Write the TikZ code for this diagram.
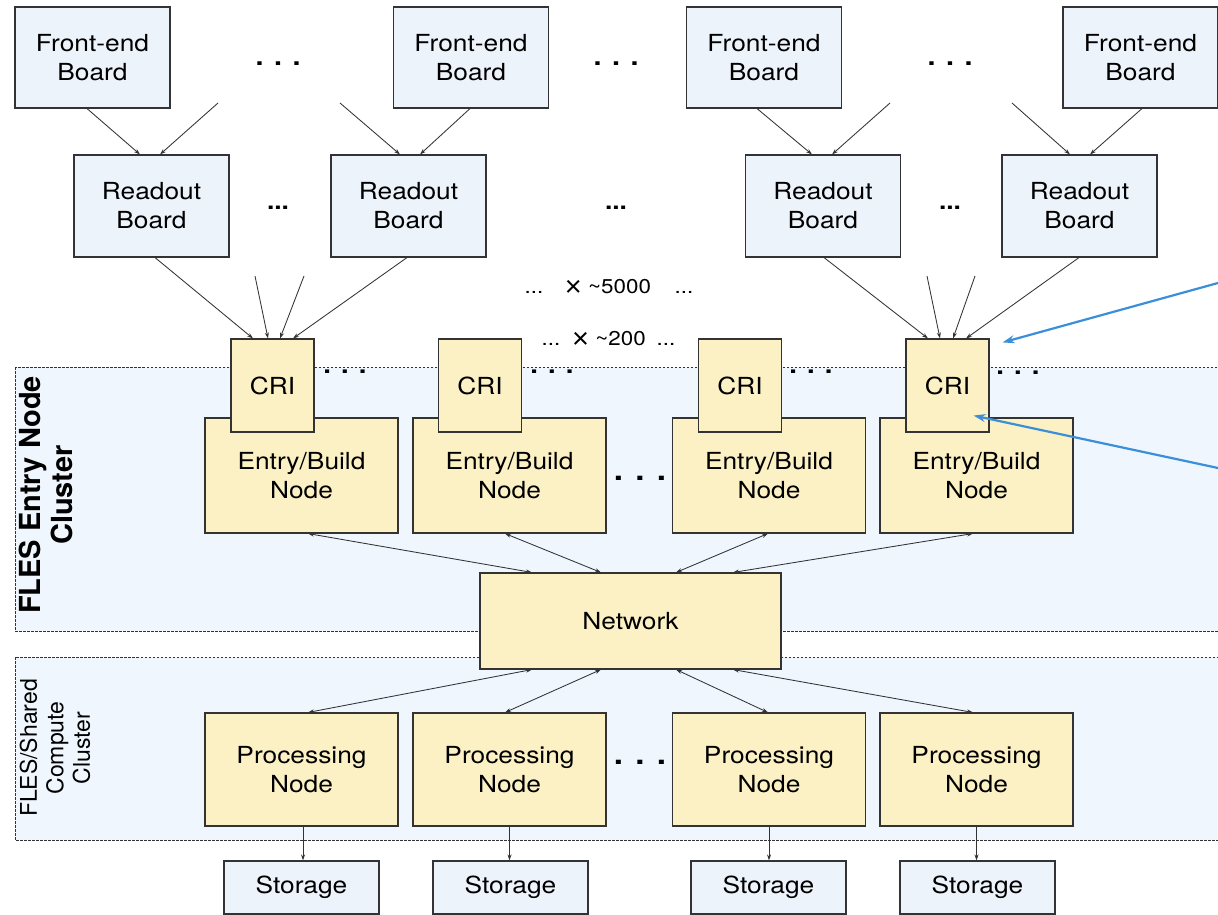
\documentclass[tikz,border=0pt]{standalone}
\usepackage{fontspec}
\setmainfont[FakeStretch=1.12]{TeX Gyre Heros}
\newfontfamily\sidefont{TeX Gyre Heros}
\newfontfamily\timesfont{Liberation Sans}
\usetikzlibrary{arrows.meta,calc}

\definecolor{boardfill}{HTML}{EDF3FB}
\definecolor{nodefill}{HTML}{FCF1C4}
\definecolor{clusterfill}{HTML}{EFF6FD}
\definecolor{edgegray}{HTML}{333333}
\definecolor{pointerblue}{HTML}{3B8FDA}

\newcommand{\timessign}{\raisebox{-2.5pt}{\timesfont\fontsize{29}{22}\selectfont ×}}

\tikzset{
  box/.style={draw=edgegray, line width=1.1pt, inner sep=0pt, align=center,
              font=\fontsize{23.5}{29}\selectfont},
  board/.style={box, fill=boardfill, minimum width=155pt, minimum height=101pt},
  rboard/.style={box, fill=boardfill, minimum width=155pt, minimum height=102pt},
  cribox/.style={box, fill=nodefill, minimum width=83pt, minimum height=93pt},
  entrybox/.style={box, fill=nodefill, minimum width=193pt, minimum height=115pt},
  procbox/.style={box, fill=nodefill, minimum width=193pt, minimum height=113pt},
  netbox/.style={box, fill=nodefill, minimum width=301pt, minimum height=96pt},
  storebox/.style={box, fill=boardfill, minimum width=155pt, minimum height=53pt},
  link/.style={draw=edgegray, line width=0.85pt, -{Stealth[length=6pt,width=4pt]}},
  dlink/.style={draw=edgegray, line width=0.85pt,
                {Stealth[length=6pt,width=4pt]}-{Stealth[length=6pt,width=4pt]}},
  pointer/.style={draw=pointerblue, line width=2.2pt, -{Stealth[length=12pt,width=8pt]}},
  cluster/.style={fill=clusterfill, draw=edgegray, line width=0.9pt,
                  dash pattern=on 2.5pt off 1.5pt},
  bigdots/.style={inner sep=0pt, font=\bfseries\fontsize{25.5}{26}\selectfont},
  cridots/.style={inner sep=0pt, font=\bfseries\fontsize{24.5}{25}\selectfont},
  rowdots/.style={inner sep=0pt, font=\bfseries\fontsize{23.5}{29}\selectfont},
  hugedots/.style={inner sep=0pt, font=\bfseries\fontsize{29.5}{30}\selectfont},
  count/.style={inner sep=0pt, font=\fontsize{20}{22}\selectfont},
}

\begin{document}
\begin{tikzpicture}[x=1pt, y=-1pt]
\useasboundingbox (0,0) rectangle (1218,915);
\clip (0,0) rectangle (1218,915);
\fill[white] (0,0) rectangle (1218,915);

% cluster backgrounds
\draw[cluster] (15,367) rectangle (1230,631);
\draw[cluster] (15,657) rectangle (1230,840);

\node[rotate=90, inner sep=0pt, align=center,
      font=\sidefont\bfseries\fontsize{29}{32}\selectfont] (entrylabel) at (45.5,495)
  {FLES Entry Node\\Cluster};
\node[rotate=90, inner sep=0pt, align=center,
      font=\sidefont\fontsize{23}{26.5}\selectfont] (computelabel) at (55,748)
  {FLES/Shared\\Compute\\Cluster};

% front-end boards
\node[board] (fe1) at (92.5,57.5) {Front-end\\Board};
\node[board] (fe2) at (471,57.5) {Front-end\\Board};
\node[board] (fe3) at (764,57.5) {Front-end\\Board};
\node[board] (fe4) at (1140.5,57.5) {Front-end\\Board};
\node[bigdots] (d1) at (278,64) {. . .};
\node[bigdots] (d2) at (616,64) {. . .};
\node[bigdots] (d3) at (950,64) {. . .};

% readout boards
\node[rboard] (rb1) at (151.5,206) {Readout\\Board};
\node[rboard] (rb2) at (408.5,206) {Readout\\Board};
\node[rboard] (rb3) at (823,206) {Readout\\Board};
\node[rboard] (rb4) at (1079.5,206) {Readout\\Board};
\node[rowdots] (d4) at (278,207.5) {...};
\node[rowdots] (d5) at (616,207.5) {...};
\node[rowdots] (d6) at (950,207.5) {...};

% multiplicities
\node[count] (c1) at (534,292) {...};
\node[count] (c2) at (608,288) {\timessign{} \textasciitilde5000};
\node[count] (c3) at (684,292) {...};
\node[count] (c4) at (551,344) {...};
\node[count] (c5) at (609,340) {\timessign{} \textasciitilde200};
\node[count] (c6) at (666,344) {...};

% entry/build nodes with their CRIs
\node[entrybox] (eb1) at (301.5,475.5) {Entry/Build\\Node};
\node[entrybox] (eb2) at (509.5,475.5) {Entry/Build\\Node};
\node[entrybox] (eb3) at (769,475.5) {Entry/Build\\Node};
\node[entrybox] (eb4) at (976.5,475.5) {Entry/Build\\Node};
\node[cribox] (cri1) at (272.5,385.5) {CRI};
\node[cribox] (cri2) at (480,385.5) {CRI};
\node[cribox] (cri3) at (740,385.5) {CRI};
\node[cribox] (cri4) at (947.5,385.5) {CRI};
\node[cridots] (d7) at (345,372) {. . .};
\node[cridots] (d8) at (552,372) {. . .};
\node[cridots] (d9) at (811,372) {. . .};
\node[cridots] (d10) at (1018,373) {. . .};
\node[hugedots] (d11) at (640,478) {. . .};

% network
\node[netbox] (net) at (630.5,621) {Network};

% processing nodes and storage
\node[procbox] (pn1) at (301.5,769.5) {Processing\\Node};
\node[procbox] (pn2) at (509.5,769.5) {Processing\\Node};
\node[procbox] (pn3) at (769,769.5) {Processing\\Node};
\node[procbox] (pn4) at (976.5,769.5) {Processing\\Node};
\node[hugedots] (d12) at (640,762) {. . .};
\node[storebox] (st1) at (301.5,887.5) {Storage};
\node[storebox] (st2) at (510.5,887.5) {Storage};
\node[storebox] (st3) at (768.5,887.5) {Storage};
\node[storebox] (st4) at (977.5,887.5) {Storage};

% loose ends of the elided links
\coordinate (f1) at (218,103);
\coordinate (f2) at (340,103);
\coordinate (f3) at (890,103);
\coordinate (f4) at (1012,103);
\coordinate (g1) at (255,276);
\coordinate (g2) at (304,276);
\coordinate (g3) at (927,276);
\coordinate (g4) at (975,276);
\coordinate (p1) at (1218,283);
\coordinate (p2) at (1218,468);

% front-end -> readout
\draw[link] ([xshift=-5.5pt]fe1.south) -- ([xshift=-11.5pt]rb1.north);
\draw[link] (f1) -- ([xshift=8.5pt]rb1.north);
\draw[link] (f2) -- ([xshift=-8.5pt]rb2.north);
\draw[link] ([xshift=-1pt]fe2.south) -- ([xshift=11.5pt]rb2.north);
\draw[link] ([xshift=-7pt]fe3.south) -- ([xshift=-11pt]rb3.north);
\draw[link] (f3) -- ([xshift=9pt]rb3.north);
\draw[link] (f4) -- ([xshift=-9.5pt]rb4.north);
\draw[link] ([xshift=1.5pt]fe4.south) -- ([xshift=10.5pt]rb4.north);

% readout -> CRI
\draw[link] ([xshift=3.5pt]rb1.south) -- ([xshift=-19.5pt]cri1.north);
\draw[link] (g1) -- ([xshift=-4.5pt]cri1.north);
\draw[link] (g2) -- ([xshift=7.5pt]cri1.north);
\draw[link] ([xshift=-1.5pt]rb2.south) -- ([xshift=20.5pt]cri1.north);
\draw[link] ([xshift=1pt]rb3.south) -- ([xshift=-19.5pt]cri4.north);
\draw[link] (g3) -- ([xshift=-7.5pt]cri4.north);
\draw[link] (g4) -- ([xshift=5.5pt]cri4.north);
\draw[link] ([xshift=-0.5pt]rb4.south) -- ([xshift=18.5pt]cri4.north);

% entry nodes <-> network <-> processing nodes
\draw[dlink] ([xshift=6.5pt]eb1.south) -- ([xshift=-98.5pt]net.north);
\draw[dlink] ([xshift=-4.5pt]eb2.south) -- ([xshift=-29.5pt]net.north);
\draw[dlink] ([xshift=-1pt]eb3.south) -- ([xshift=45.5pt]net.north);
\draw[dlink] ([xshift=-3.5pt]eb4.south) -- ([xshift=102.5pt]net.north);
\draw[dlink] ([xshift=-98.5pt]net.south) -- ([xshift=6.5pt]pn1.north);
\draw[dlink] ([xshift=-29.5pt]net.south) -- ([xshift=-4.5pt]pn2.north);
\draw[dlink] ([xshift=45.5pt]net.south) -- ([xshift=-1pt]pn3.north);
\draw[dlink] ([xshift=102.5pt]net.south) -- ([xshift=-3.5pt]pn4.north);

% processing -> storage
\draw[link] ([xshift=1.5pt]pn1.south) -- ([xshift=1.5pt]pn1.south |- st1.north);
\draw[link] (pn2.south) -- (pn2.south |- st2.north);
\draw[link] (pn3.south) -- (pn3.south |- st3.north);
\draw[link] (pn4.south) -- (pn4.south |- st4.north);

% callouts
\draw[pointer] (p1) -- ([xshift=13pt,yshift=-4pt]cri4.north east);
\draw[pointer] (p2) -- ([xshift=-16pt,yshift=17pt]cri4.south east);
\end{tikzpicture}
\end{document}
